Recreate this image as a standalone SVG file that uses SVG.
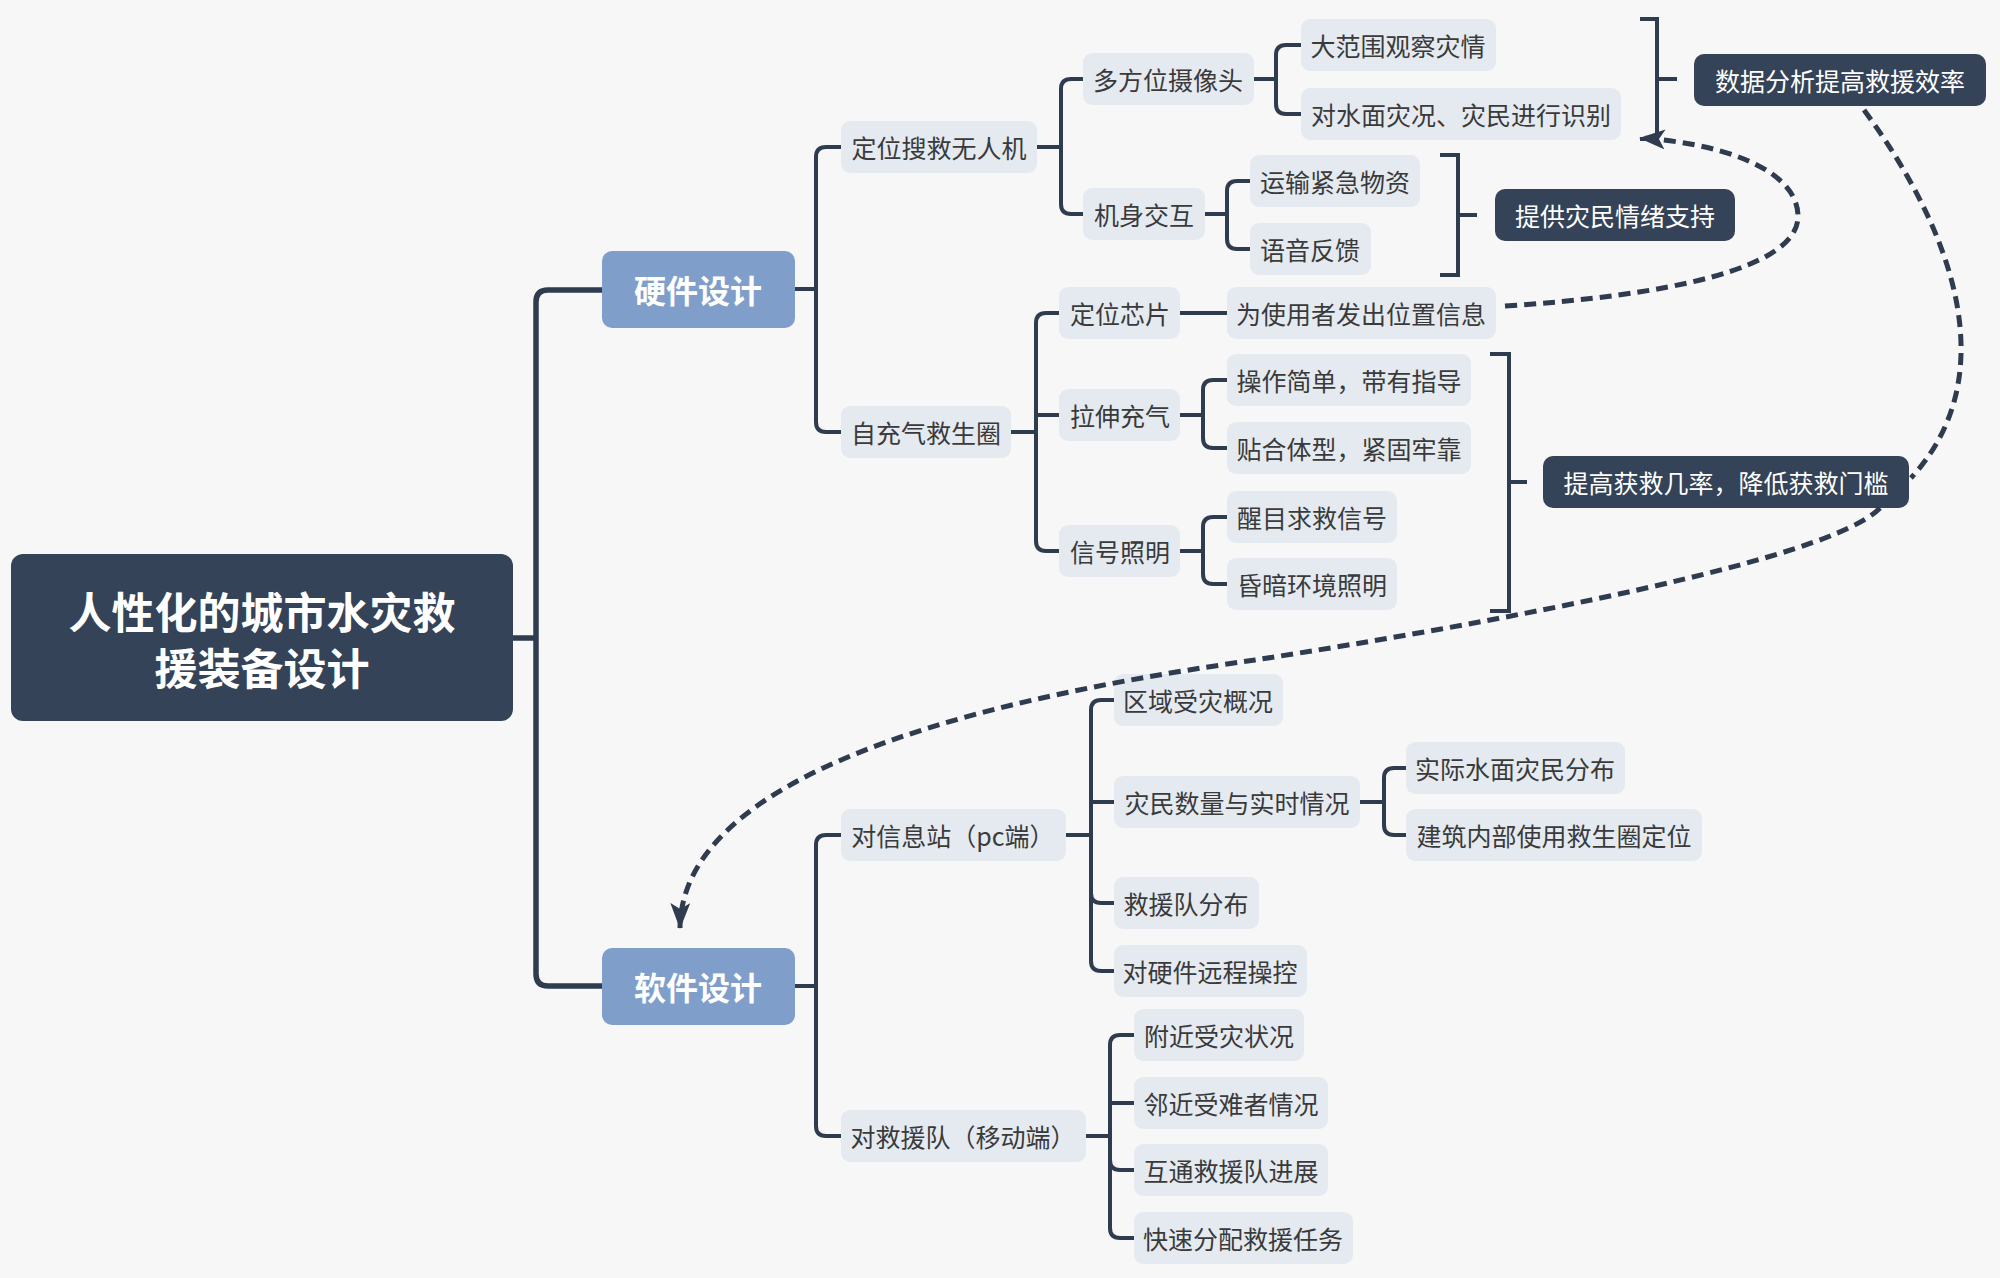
<svg xmlns="http://www.w3.org/2000/svg" width="2000" height="1278" viewBox="0 0 2000 1278">
<defs>
<style>
text{font-family:"Noto Sans CJK SC","Noto Sans",sans-serif;dominant-baseline:central;text-anchor:middle}
.n rect{fill:#e5eaf1}
.n text{font-size:25px;fill:#3a3a3a}
.d rect{fill:#344357}
.d text{font-size:25px;fill:#ffffff}
.b rect{fill:#7f9fca}
.b text{font-size:32px;font-weight:bold;fill:#ffffff}
.r rect{fill:#344357}
.r text{font-size:43px;font-weight:bold;fill:#ffffff}
.ln{fill:none;stroke:#2f3c4f;stroke-width:4}
.ln1{fill:none;stroke:#2f3c4f;stroke-width:5.5}
.rel{fill:none;stroke:#2f3c4f;stroke-width:5;stroke-dasharray:12 7}
</style>
<marker id="arr" viewBox="0 0 26 20" refX="25" refY="10" markerWidth="26" markerHeight="20" markerUnits="userSpaceOnUse" orient="auto">
<path d="M0,0 L26,10 L0,20 L6,10 z" fill="#2f3c4f"/>
</marker>
</defs>
<rect width="2000" height="1278" fill="#f8f7f7"/>

<g id="connectors">
<path class="ln1" d="M513,638 H536 M536,638 V302 Q536,290 548,290 H602 M536,638 V974 Q536,986 548,986 H602"/>
<path class="ln" d="M795,289 H816 M816,289 V157 Q816,147 826,147 H841 M816,289 V422 Q816,432 826,432 H841"/>
<path class="ln" d="M1037,147 H1061 M1061,147 V89 Q1061,79 1071,79 H1083 M1061,147 V204 Q1061,214 1071,214 H1083"/>
<path class="ln" d="M1254,79 H1276 M1276,79 V55 Q1276,45 1286,45 H1301 M1276,79 V104 Q1276,114 1286,114 H1301"/>
<path class="ln" d="M1205,214 H1227 M1227,214 V191 Q1227,181 1237,181 H1250 M1227,214 V239 Q1227,249 1237,249 H1250"/>
<path class="ln" d="M1011,432 H1036 M1036,432 V323 Q1036,313 1046,313 H1059 M1036,432 V541 Q1036,551 1046,551 H1059 M1036,415 H1059"/>
<path class="ln" d="M1180,313 H1227"/>
<path class="ln" d="M1180,415 H1203 M1203,415 V390 Q1203,380 1213,380 H1227 M1203,415 V438 Q1203,448 1213,448 H1227"/>
<path class="ln" d="M1180,551 H1203 M1203,551 V527 Q1203,517 1213,517 H1227 M1203,551 V574 Q1203,584 1213,584 H1227"/>
<path class="ln" d="M1640,19 H1657 V139 H1640 M1657,79 H1677"/>
<path class="ln" d="M1440,155 H1458 V275 H1440 M1458,215 H1477"/>
<path class="ln" d="M1490,354 H1509 V611 H1490 M1509,482 H1527"/>
<path class="ln" d="M795,986 H816 M816,986 V845 Q816,835 826,835 H841 M816,986 V1126 Q816,1136 826,1136 H841"/>
<path class="ln" d="M1066,835 H1091 M1091,835 V710 Q1091,700 1101,700 H1114 M1091,835 V961 Q1091,971 1101,971 H1114 M1091,802 H1114 M1091,893 Q1091,903 1101,903 H1114"/>
<path class="ln" d="M1360,802 H1384 M1384,802 V778 Q1384,768 1394,768 H1406 M1384,802 V825 Q1384,835 1394,835 H1406"/>
<path class="ln" d="M1086,1136 H1110 M1110,1136 V1045 Q1110,1035 1120,1035 H1134 M1110,1136 V1228 Q1110,1238 1120,1238 H1134 M1110,1103 H1134 M1110,1160 Q1110,1170 1120,1170 H1134"/>
</g>

<g id="root" class="r"><rect x="11" y="554" width="502" height="167" rx="12"/><text x="262" y="610">人性化的城市水灾救</text><text x="262" y="666">援装备设计</text></g>
<g id="hw" class="b"><rect x="602" y="251" width="193" height="77" rx="10"/><text x="698" y="289">硬件设计</text></g>
<g id="sw" class="b"><rect x="602" y="948" width="193" height="77" rx="10"/><text x="698" y="986">软件设计</text></g>

<g id="n1" class="n"><rect x="841" y="121" width="196" height="52" rx="9"/><text x="939" y="147">定位搜救无人机</text></g>
<g id="n2" class="n"><rect x="841" y="406" width="170" height="52" rx="9"/><text x="926" y="432">自充气救生圈</text></g>
<g id="n3" class="n"><rect x="1083" y="53" width="171" height="52" rx="9"/><text x="1168" y="79">多方位摄像头</text></g>
<g id="n4" class="n"><rect x="1083" y="188" width="122" height="52" rx="9"/><text x="1144" y="214">机身交互</text></g>
<g id="n5" class="n"><rect x="1301" y="19" width="195" height="52" rx="9"/><text x="1398" y="45">大范围观察灾情</text></g>
<g id="n6" class="n"><rect x="1301" y="88" width="320" height="52" rx="9"/><text x="1461" y="114">对水面灾况、灾民进行识别</text></g>
<g id="n7" class="n"><rect x="1250" y="155" width="170" height="52" rx="9"/><text x="1335" y="181">运输紧急物资</text></g>
<g id="n8" class="n"><rect x="1250" y="223" width="121" height="52" rx="9"/><text x="1310" y="249">语音反馈</text></g>
<g id="n9" class="n"><rect x="1059" y="287" width="121" height="52" rx="9"/><text x="1120" y="313">定位芯片</text></g>
<g id="n10" class="n"><rect x="1227" y="287" width="269" height="52" rx="9"/><text x="1361" y="313">为使用者发出位置信息</text></g>
<g id="n11" class="n"><rect x="1059" y="389" width="121" height="52" rx="9"/><text x="1120" y="415">拉伸充气</text></g>
<g id="n12" class="n"><rect x="1227" y="354" width="244" height="52" rx="9"/><text x="1349" y="380">操作简单，带有指导</text></g>
<g id="n13" class="n"><rect x="1227" y="422" width="244" height="52" rx="9"/><text x="1349" y="448">贴合体型，紧固牢靠</text></g>
<g id="n14" class="n"><rect x="1059" y="525" width="121" height="52" rx="9"/><text x="1120" y="551">信号照明</text></g>
<g id="n15" class="n"><rect x="1227" y="491" width="170" height="52" rx="9"/><text x="1312" y="517">醒目求救信号</text></g>
<g id="n16" class="n"><rect x="1227" y="558" width="170" height="52" rx="9"/><text x="1312" y="584">昏暗环境照明</text></g>

<g id="s1" class="d"><rect x="1694" y="54" width="292" height="52" rx="10"/><text x="1840" y="80">数据分析提高救援效率</text></g>
<g id="s2" class="d"><rect x="1495" y="189" width="240" height="52" rx="10"/><text x="1615" y="215">提供灾民情绪支持</text></g>
<g id="s3" class="d"><rect x="1543" y="456" width="366" height="52" rx="10"/><text x="1726" y="482">提高获救几率，降低获救门槛</text></g>

<g id="m1" class="n"><rect x="841" y="809" width="225" height="52" rx="9"/><text x="953" y="835">对信息站（pc端）</text></g>
<g id="m2" class="n"><rect x="1114" y="674" width="169" height="52" rx="9"/><text x="1198" y="700">区域受灾概况</text></g>
<g id="m3" class="n"><rect x="1114" y="776" width="246" height="52" rx="9"/><text x="1237" y="802">灾民数量与实时情况</text></g>
<g id="m4" class="n"><rect x="1406" y="742" width="219" height="52" rx="9"/><text x="1515" y="768">实际水面灾民分布</text></g>
<g id="m5" class="n"><rect x="1406" y="809" width="296" height="52" rx="9"/><text x="1554" y="835">建筑内部使用救生圈定位</text></g>
<g id="m6" class="n"><rect x="1114" y="877" width="145" height="52" rx="9"/><text x="1186" y="903">救援队分布</text></g>
<g id="m7" class="n"><rect x="1114" y="945" width="193" height="52" rx="9"/><text x="1210" y="971">对硬件远程操控</text></g>
<g id="m8" class="n"><rect x="841" y="1110" width="245" height="52" rx="9"/><text x="963" y="1136">对救援队（移动端）</text></g>
<g id="m9" class="n"><rect x="1134" y="1009" width="170" height="52" rx="9"/><text x="1219" y="1035">附近受灾状况</text></g>
<g id="m10" class="n"><rect x="1134" y="1077" width="194" height="52" rx="9"/><text x="1231" y="1103">邻近受难者情况</text></g>
<g id="m11" class="n"><rect x="1134" y="1144" width="194" height="52" rx="9"/><text x="1231" y="1170">互通救援队进展</text></g>
<g id="m12" class="n"><rect x="1134" y="1212" width="219" height="52" rx="9"/><text x="1243" y="1238">快速分配救援任务</text></g>

<g id="relations">
<path class="rel" d="M1505,306 C1660,296 1800,270 1798,215 C1796,165 1710,142 1640,138" marker-end="url(#arr)"/>
<path class="rel" d="M1864,110 C1945,220 2010,370 1911,478"/>
<path class="rel" d="M1880,508 C1830,560 1500,622 1255,660 C1030,692 682,760 680,928" marker-end="url(#arr)"/>
</g>
</svg>
